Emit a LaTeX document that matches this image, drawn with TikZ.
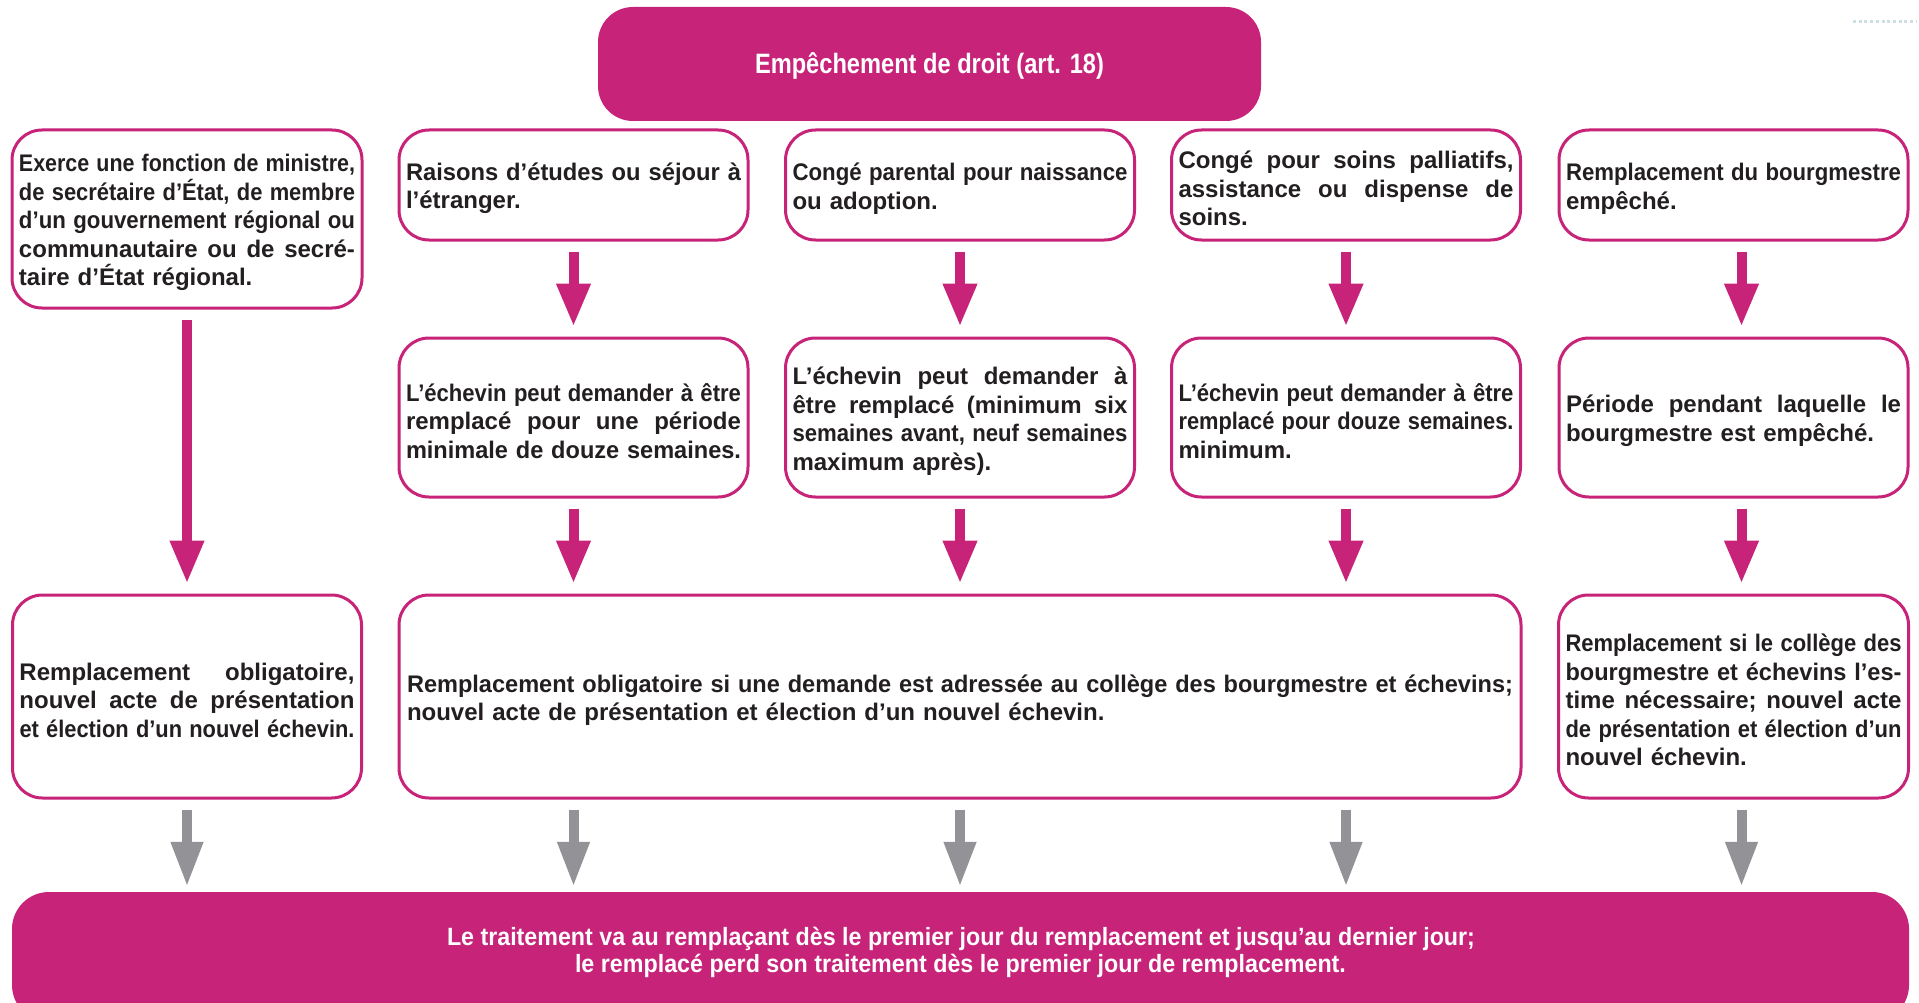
\documentclass[tikz,border=0pt]{standalone}
\usepackage{fontspec}
\setmainfont{Liberation Sans}
\usetikzlibrary{arrows.meta}
\definecolor{mag}{RGB}{199,35,121}
\definecolor{gry}{RGB}{147,147,151}
\definecolor{ink}{RGB}{35,31,32}
\definecolor{dotc}{RGB}{205,222,228}

\newsavebox\flbox
% justified line: spaces stretched, or squeezed horizontally if too wide
\newcommand\jl[1]{\sbox\flbox{#1}%
  \ifdim\wd\flbox>\hsize
    \edef\flA{\the\hsize}\edef\flB{\the\wd\flbox}\pgfmathsetmacro\flr{\flA/\flB}%
    \hbox to\hsize{\scalebox{\flr}[1]{\usebox\flbox}\hss}%
  \else
    \hbox to\hsize{\frenchspacing\spaceskip=\fontdimen2\font plus 1fil\relax #1}%
  \fi}
% last line: natural width
\newcommand\lastl[1]{\sbox\flbox{#1}%
  \ifdim\wd\flbox>\hsize
    \edef\flA{\the\hsize}\edef\flB{\the\wd\flbox}\pgfmathsetmacro\flr{\flA/\flB}%
    \hbox to\hsize{\scalebox{\flr}[1]{\usebox\flbox}\hss}%
  \else
    \hbox to\hsize{#1\hfil}%
  \fi}
% scale a text horizontally to a given width
\newcommand\fitto[2]{\sbox\flbox{#2}%
  \edef\flA{#1}\edef\flB{\the\wd\flbox}\pgfmathsetmacro\flr{\flA/\flB}%
  \scalebox{\flr}[1]{\usebox\flbox}}

\tikzset{
  wbox/.style={draw=mag, line width=3pt, fill=white, rounded corners=30pt,
    inner xsep=7pt, inner ysep=0pt, text=ink, anchor=center,
    font=\fontsize{24}{28.5}\selectfont\bfseries,
    execute at begin node={\vskip-4pt}},
  magbox/.style={fill=mag, draw=none, inner sep=0pt, anchor=center},
  marr/.style={draw=mag, line width=10pt, -{Triangle[width=32pt,length=43pt]},
    shorten <=10pt, shorten >=10pt},
  garr/.style={draw=gry, line width=10pt, -{Triangle[width=30pt,length=45pt]},
    shorten <=10pt, shorten >=5pt},
  wtext/.style={text=white, inner sep=0pt, anchor=base, font=\bfseries},
}

\begin{document}
\begin{tikzpicture}[x=1pt,y=1pt]
\useasboundingbox (0,0) rectangle (1919,-1003);
\fill[white] (0,0) rectangle (1919,-1003);

% faint dotted mark top right
\coordinate (dA) at (1853,-22);
\coordinate (dB) at (1917,-22);
\draw[dotc, line width=3pt, dash pattern=on 3pt off 2.7pt] (dA) -- (dB);

% title
\node[magbox, rounded corners=35pt, minimum width=663pt, minimum height=114pt] (top) at (929.5,-64) {};
\node[wtext] (ttl) at (929.5,-74) {\fitto{349pt}{\fontsize{28}{30}\selectfont Empêchement de droit (art. 18)}};

% row 1
\node[wbox, minimum width=350pt, minimum height=178pt, text width=336pt] (a1) at (187,-219) {%
  \jl{Exerce une fonction de ministre,}
  \jl{de secrétaire d’État, de membre}
  \jl{d’un gouvernement régional ou}
  \jl{communautaire ou de secré-}
  \lastl{taire d’État régional.}};
\node[wbox, minimum width=349pt, minimum height=110pt, text width=335pt] (b1) at (573.5,-185) {%
  \jl{Raisons d’études ou séjour à}
  \lastl{l’étranger.}};
\node[wbox, minimum width=349pt, minimum height=110pt, text width=335pt] (c1) at (960,-185) {%
  \jl{Congé parental pour naissance}
  \lastl{ou adoption.}};
\node[wbox, minimum width=349pt, minimum height=110pt, text width=335pt] (d1) at (1346,-185) {%
  \jl{Congé pour soins palliatifs,}
  \jl{assistance ou dispense de}
  \lastl{soins.}};
\node[wbox, minimum width=349pt, minimum height=110pt, text width=335pt] (e1) at (1733.5,-185) {%
  \jl{Remplacement du bourgmestre}
  \lastl{empêché.}};

% row 2
\node[wbox, minimum width=349pt, minimum height=159pt, text width=335pt] (b2) at (573.5,-417.5) {%
  \jl{L’échevin peut demander à être}
  \jl{remplacé pour une période}
  \lastl{minimale de douze semaines.}};
\node[wbox, minimum width=349pt, minimum height=159pt, text width=335pt] (c2) at (960,-417.5) {%
  \jl{L’échevin peut demander à}
  \jl{être remplacé (minimum six}
  \jl{semaines avant, neuf semaines}
  \lastl{maximum après).}};
\node[wbox, minimum width=349pt, minimum height=159pt, text width=335pt] (d2) at (1346,-417.5) {%
  \jl{L’échevin peut demander à être}
  \jl{remplacé pour douze semaines.}
  \lastl{minimum.}};
\node[wbox, minimum width=349pt, minimum height=159pt, text width=335pt] (e2) at (1733.5,-417.5) {%
  \jl{Période pendant laquelle le}
  \lastl{bourgmestre est empêché.}};

% row 3
\node[wbox, minimum width=349pt, minimum height=203pt, text width=335pt] (a3) at (187,-696.5) {%
  \jl{Remplacement obligatoire,}
  \jl{nouvel acte de présentation}
  \jl{et élection d’un nouvel échevin.}};
\node[wbox, minimum width=1122pt, minimum height=203pt, text width=1106pt] (m3) at (960,-696.5) {%
  \jl{Remplacement obligatoire si une demande est adressée au collège des bourgmestre et échevins;}
  \lastl{nouvel acte de présentation et élection d’un nouvel échevin.}};
\node[wbox, minimum width=350pt, minimum height=203pt, text width=336pt] (e3) at (1733.5,-696.5) {%
  \jl{Remplacement si le collège des}
  \jl{bourgmestre et échevins l’es-}
  \jl{time nécessaire; nouvel acte}
  \jl{de présentation et élection d’un}
  \lastl{nouvel échevin.}};

% bottom
\node[magbox, rounded corners=37pt, minimum width=1897pt, minimum height=130pt] (bot) at (960.5,-957) {};
\node[wtext] (bt1) at (961,-945) {\fitto{1028pt}{\fontsize{25}{27}\selectfont Le traitement va au remplaçant dès le premier jour du remplacement et jusqu’au dernier jour;}};
\node[wtext] (bt2) at (960.5,-972) {\fitto{771pt}{\fontsize{25}{27}\selectfont le remplacé perd son traitement dès le premier jour de remplacement.}};

% magenta arrows
\draw[marr] (a1.south) -- (a3.north);
\draw[marr] (b1.south) -- (b2.north);
\draw[marr] (c1.south) -- (c2.north);
\draw[marr] (d1.south) -- (d2.north);
\draw[marr] ([xshift=8pt]e1.south) -- ([xshift=8pt]e2.north);
\draw[marr] (b2.south) -- (b2.south |- m3.north);
\draw[marr] (c2.south) -- (c2.south |- m3.north);
\draw[marr] (d2.south) -- (d2.south |- m3.north);
\draw[marr] ([xshift=8pt]e2.south) -- ([xshift=8pt]e3.north);

% gray arrows
\draw[garr] (a3.south) -- (a3.south |- bot.north);
\draw[garr] (m3.south -| b2.south) -- (b2.south |- bot.north);
\draw[garr] (m3.south) -- (m3.south |- bot.north);
\draw[garr] (m3.south -| d2.south) -- (d2.south |- bot.north);
\draw[garr] ([xshift=8pt]e3.south) -- ([xshift=8pt]e3.south |- bot.north);
\end{tikzpicture}
\end{document}
